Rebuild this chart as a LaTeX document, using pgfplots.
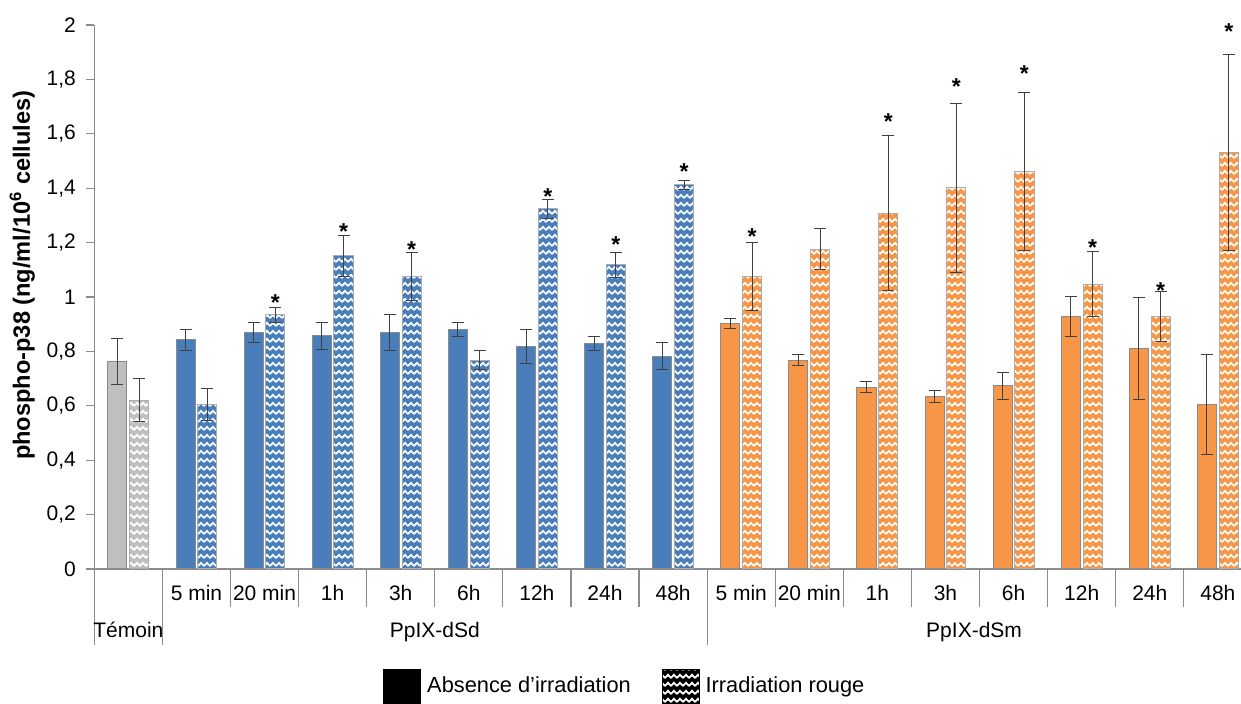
\documentclass[border=0pt]{standalone}
\usepackage{fontspec}
\setmainfont{Liberation Sans}
\usepackage{pgfplots}
\usepackage{pgfplotstable}
\pgfplotsset{compat=1.18}
\usetikzlibrary{patterns.meta}

\pgfdeclarepattern{
  name=wave,
  type=uncolored,
  bottom left={\pgfpoint{0pt}{0pt}},
  top right={\pgfpoint{3.2pt}{4pt}},
  tile size={\pgfpoint{3.2pt}{4pt}},
  code={
    \pgfsetlinewidth{0.95pt}
    \pgfpathmoveto{\pgfpoint{-0.1pt}{1.1pt}}
    \pgfpathcurveto{\pgfpoint{0.8pt}{1.1pt}}{\pgfpoint{0.8pt}{2.9pt}}{\pgfpoint{1.6pt}{2.9pt}}
    \pgfpathcurveto{\pgfpoint{2.4pt}{2.9pt}}{\pgfpoint{2.4pt}{1.1pt}}{\pgfpoint{3.3pt}{1.1pt}}
    \pgfusepath{stroke}
  }
}

\definecolor{cgray}{HTML}{BFBFBF}
\definecolor{cblue}{HTML}{4A7EBB}
\definecolor{corange}{HTML}{F79646}
\definecolor{cedge}{HTML}{8A8A8A}
\definecolor{cerr}{HTML}{404040}
\definecolor{csep}{HTML}{8C8C8C}

% x  a (absence)  ea  b (irradiation)  eb
\pgfplotstableread{
x a ea b eb
0 0.762 0.084 0.621 0.078
}\temoin
\pgfplotstableread{
x a ea b eb
1 0.842 0.039 0.605 0.060
2 0.869 0.038 0.934 0.026
3 0.857 0.051 1.151 0.076
4 0.869 0.065 1.075 0.088
5 0.881 0.027 0.768 0.036
6 0.819 0.062 1.325 0.035
7 0.830 0.026 1.118 0.047
8 0.783 0.048 1.412 0.018
}\dsd
\pgfplotstableread{
x a ea b eb
9  0.903 0.017 1.077 0.125
10 0.768 0.021 1.176 0.074
11 0.669 0.020 1.308 0.285
12 0.634 0.022 1.401 0.310
13 0.674 0.050 1.460 0.290
14 0.928 0.072 1.047 0.119
15 0.810 0.187 0.930 0.092
16 0.604 0.183 1.532 0.360
}\dsm
\pgfplotstableread{
x y
2.16 0.996
3.16 1.257
4.16 1.191
6.16 1.387
7.16 1.210
8.16 1.478
9.16 1.240
11.16 1.662
12.16 1.790
13.16 1.838
14.16 1.200
15.16 1.042
16.16 1.992
}\stars

\pgfplotsset{
  errstyle/.style={
    error bars/y dir=both, error bars/y explicit,
    error bars/error bar style={line width=0.5pt, cerr},
    error bars/error mark options={rotate=90, mark size=3pt, line width=0.5pt, cerr}},
  solidbar/.style={ybar, bar width=0.28, bar shift=0, draw=cedge, line width=0.5pt, forget plot, errstyle},
  hatchbar/.style={ybar, bar width=0.28, bar shift=0, draw=cedge!70, line width=0.5pt, forget plot,
    postaction={pattern=wave, pattern color=white}, errstyle},
}

\begin{document}
\fontsize{10.5}{12.6}\selectfont
\begin{tikzpicture}
\begin{axis}[
  name=ax,
  scale only axis, width=573.35pt, height=272pt,
  xmin=-0.5, xmax=16.34, ymin=0, ymax=2,
  clip=false,
  axis x line=bottom, axis y line=left,
  axis line style={-, draw=csep, line width=0.6pt},
  tick align=outside, major tick length=4pt,
  ytick={0,0.2,0.4,0.6,0.8,1,1.2,1.4,1.6,1.8,2},
  ytick style={draw=csep, line width=0.6pt},
  /pgf/number format/use comma,
  /pgf/number format/assume math mode=true,
  yticklabel style={font=\fontsize{10.5}{12.6}\selectfont, xshift=-1.5pt},
  xtick={1,...,16},
  xticklabels={5 min,20 min,1h,3h,6h,12h,24h,48h,5 min,20 min,1h,3h,6h,12h,24h,48h},
  xtick style={draw=none},
  xticklabel style={font=\fontsize{10.5}{12.6}\selectfont, anchor=base, yshift=-12pt},
  ylabel={\fontsize{11.8}{14}\selectfont\bfseries phospho-p38 (ng/ml/10\textsuperscript{6} cellules)},
  ylabel style={at={(axis description cs:-0.0628,0.54)}, anchor=center},
  legend style={draw=none, fill=none, inner sep=0pt, at={(0.2518,-0.2188)}, anchor=west,
    font=\fontsize{10.9}{13}\selectfont,
    /tikz/every odd column/.append style={column sep=1pt},
    /tikz/every even column/.append style={column sep=13.5pt}},
  legend columns=2,
]
\addplot[solidbar, fill=cgray] table[x expr=\thisrow{x}-0.16, y=a, y error=ea] {\temoin};
\addplot[hatchbar, fill=cgray] table[x expr=\thisrow{x}+0.16, y=b, y error=eb] {\temoin};
\addplot[solidbar, fill=cblue] table[x expr=\thisrow{x}-0.16, y=a, y error=ea] {\dsd};
\addplot[hatchbar, fill=cblue] table[x expr=\thisrow{x}+0.16, y=b, y error=eb] {\dsd};
\addplot[solidbar, fill=corange] table[x expr=\thisrow{x}-0.16, y=a, y error=ea] {\dsm};
\addplot[hatchbar, fill=corange] table[x expr=\thisrow{x}+0.16, y=b, y error=eb] {\dsm};

\addplot[draw=none, mark=none, forget plot,
  nodes near coords={\textbf{*}},
  every node near coord/.append style={anchor=center, yshift=-2.4pt, font=\fontsize{11.5}{13}\selectfont}]
  table[x=x, y=y] {\stars};

\addlegendimage{legend image code/.code={\fill[black] (0pt,-10pt) rectangle (18.5pt,8.5pt);}}
\addlegendentry{Absence d’irradiation}
\addlegendimage{legend image code/.code={\fill[black] (0pt,-10pt) rectangle (18.5pt,8.5pt);
   \fill[pattern=wave, pattern color=white] (0pt,-10pt) rectangle (18.5pt,8.5pt);}}
\addlegendentry{Irradiation rouge}

\pgfplotsinvokeforeach{0,0.2,0.4,0.6,0.8,1,1.2,1.4,1.6,1.8,2}{\draw[csep, line width=0.6pt] (axis cs:-0.5,#1) -- ++(-4pt,0pt);}
\draw[csep, line width=0.6pt] (axis cs:-0.5,0) -- ++(0pt,-38pt);
\draw[csep, line width=0.6pt] (axis cs:0.5,0) -- ++(0pt,-38pt);
\draw[csep, line width=0.6pt] (axis cs:8.5,0) -- ++(0pt,-38pt);
\pgfplotsinvokeforeach{1.5,2.5,...,7.5}{\draw[csep, line width=0.6pt] (axis cs:#1,0) -- ++(0pt,-19pt);}
\pgfplotsinvokeforeach{9.5,10.5,...,15.5}{\draw[csep, line width=0.6pt] (axis cs:#1,0) -- ++(0pt,-19pt);}

\node[anchor=base] at ([yshift=-34.5pt]axis cs:0,0) {Témoin};
\node[anchor=base] at ([yshift=-34.5pt]axis cs:4.5,0) {PpIX-dSd};
\node[anchor=base] at ([yshift=-34.5pt]axis cs:12.42,0) {PpIX-dSm};
\end{axis}
\pgfresetboundingbox
\path[use as bounding box] ([xshift=-47.15pt,yshift=-67.5pt]ax.south west) rectangle ([yshift=12.5pt]ax.north east);
\end{tikzpicture}
\end{document}
